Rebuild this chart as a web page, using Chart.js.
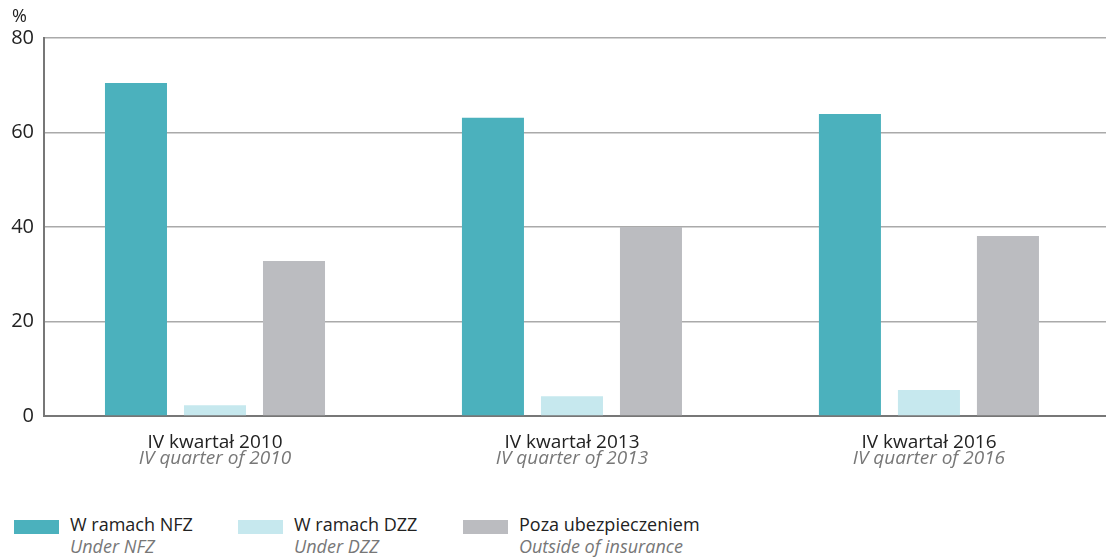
<!DOCTYPE html>
<html>
<head>
<meta charset="utf-8">
<script src="https://cdn.jsdelivr.net/npm/chart.js@4.4.0/dist/chart.umd.min.js"></script>
<style>
  body { margin: 0; background: #fff; font-family: "Open Sans", sans-serif; }
  #wrap { position: relative; width: 1106px; height: 480px; }
  #legend { position: absolute; top: 513px; left: 14px; }
  .item { display: flex; align-items: flex-start; white-space: nowrap; position: absolute; }
  .swatch { width: 45px; height: 14px; margin-top: 7px; margin-right: 11px; flex: none; }
  .txt { font-size: 18px; line-height: 22px; color: #222; }
  .txt i { display: block; color: #777; }
</style>
</head>
<body>
<div id="wrap"><canvas id="chart" width="1106" height="480"></canvas></div>
<div id="legend"></div>
<script>
const categories = ['IV kwartał 2010', 'IV kwartał 2013', 'IV kwartał 2016'];
const categoriesEn = ['IV quarter of 2010', 'IV quarter of 2013', 'IV quarter of 2016'];
const nfz = [70.5, 63.1, 63.9];
const dzz = [2.3, 4.2, 5.5];
const poza = [32.8, 40.0, 38.1];
const yTicks = [0, 20, 40, 60, 80];

const seriesNames = ['W ramach NFZ', 'W ramach DZZ', 'Poza ubezpieczeniem'];
const seriesNamesEn = ['Under NFZ', 'Under DZZ', 'Outside of insurance'];
const colors = ['#4bb1bd', '#c6e8ee', '#bbbcc0'];

// second (italic) line under each category label, plus the % sign
const extraText = {
    id: 'extraText',
    afterDraw(chart) {
        const ctx = chart.ctx;
        const x = chart.scales.x;
        ctx.save();
        ctx.font = 'italic 19px "Open Sans"';
        ctx.fillStyle = '#777';
        ctx.textAlign = 'center';
        ctx.textBaseline = 'middle';
        categoriesEn.forEach((t, i) => {
            ctx.fillText(t, x.getPixelForValue(i), 459);
        });
        ctx.font = '18px "Open Sans"';
        ctx.fillStyle = '#222';
        ctx.textAlign = 'left';
        ctx.fillText('%', 12, 17);
        ctx.restore();
    }
};

new Chart(document.getElementById('chart'), {
    type: 'bar',
    data: {
        datasets: [nfz, dzz, poza].map((d, i) => ({
            label: seriesNames[i],
            data: d.map((v, j) => ({ x: j, y: v })),
            backgroundColor: colors[i],
            categoryPercentage: 0.664,
            barPercentage: 0.785
        }))
    },
    options: {
        responsive: false,
        animation: false,
        layout: { padding: { top: 38, right: 0, left: 0, bottom: 0 } },
        plugins: { legend: { display: false }, tooltip: { enabled: false } },
        scales: {
            x: {
                type: 'linear',
                offset: false,
                min: -0.479,
                max: 2.496,
                afterBuildTicks(scale) { scale.ticks = categories.map((c, i) => ({ value: i })); },
                grid: { display: false },
                border: { color: '#777', width: 2 },
                ticks: {
                    color: '#222',
                    font: { family: 'Open Sans', size: 19 },
                    padding: 7,
                    maxRotation: 0,
                    callback: v => categories[v]
                },
                afterFit(scale) { scale.height = 64; }
            },
            y: {
                min: 0,
                max: 80,
                afterBuildTicks(scale) { scale.ticks = yTicks.map(v => ({ value: v })); },
                grid: { color: '#aaa', lineWidth: 1.5, drawTicks: false },
                border: { color: '#777', width: 2 },
                ticks: { color: '#222', font: { family: 'Open Sans', size: 20 }, padding: 10 },
                afterFit(scale) { scale.width = 44; }
            }
        }
    },
    plugins: [extraText]
});

// HTML legend with two-line labels
const legend = document.getElementById('legend');
const offsets = [0, 224, 449];
seriesNames.forEach((name, i) => {
    const item = document.createElement('div');
    item.className = 'item';
    item.style.left = offsets[i] + 'px';
    item.innerHTML = '<div class="swatch" style="background:' + colors[i] + '"></div>' +
        '<div class="txt">' + name + '<i>' + seriesNamesEn[i] + '</i></div>';
    legend.appendChild(item);
});
</script>
</body>
</html>
